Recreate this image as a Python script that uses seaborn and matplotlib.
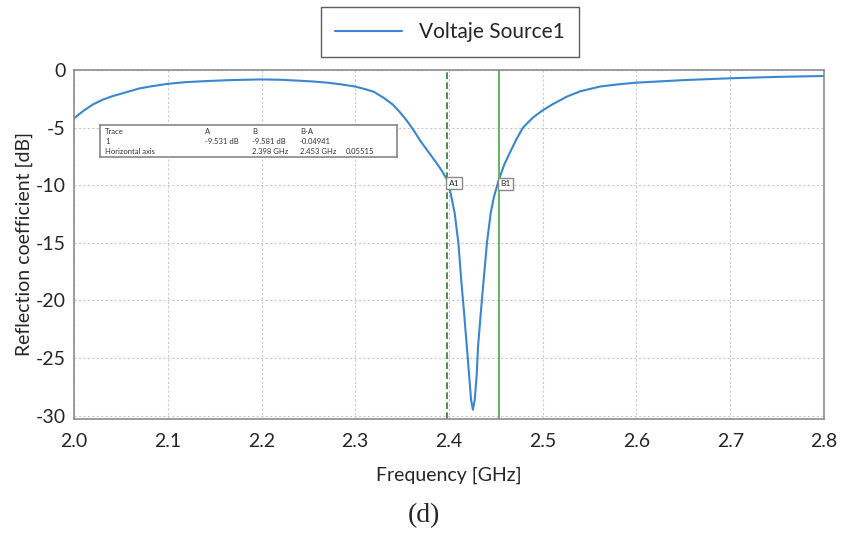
import numpy as np
import pandas as pd
import matplotlib.pyplot as plt
import seaborn as sns

# Reflection coefficient trace
freq_ghz = [2.000, 2.010, 2.020, 2.030, 2.040, 2.057, 2.070, 2.080, 2.100, 2.120,
            2.145, 2.170, 2.200, 2.220, 2.240, 2.255, 2.270, 2.285, 2.300, 2.310,
            2.320, 2.330, 2.340, 2.348, 2.355, 2.362, 2.369, 2.377, 2.386, 2.392,
            2.398, 2.402, 2.406, 2.410, 2.413, 2.416, 2.419, 2.4215, 2.4235, 2.4255,
            2.4275, 2.4295, 2.431, 2.434, 2.437, 2.4405, 2.4445, 2.448, 2.453, 2.459,
            2.466, 2.472, 2.479, 2.485, 2.490, 2.495, 2.500, 2.510, 2.526, 2.540,
            2.561, 2.580, 2.600, 2.650, 2.700, 2.750, 2.800]
refl_db = [-4.2, -3.55, -3.0, -2.6, -2.3, -1.9, -1.6, -1.45, -1.2, -1.05,
           -0.95, -0.87, -0.82, -0.85, -0.93, -1.0, -1.1, -1.25, -1.44, -1.65,
           -1.9, -2.4, -3.0, -3.7, -4.4, -5.2, -6.1, -7.0, -8.0, -8.7,
           -9.53, -10.8, -12.4, -15.0, -18.2, -21.0, -24.0, -26.5, -28.6, -29.5,
           -28.6, -26.5, -24.0, -21.0, -18.2, -15.0, -12.4, -11.0, -9.58, -8.2,
           -7.0, -6.0, -5.0, -4.5, -4.1, -3.8, -3.5, -3.0, -2.3, -1.85,
           -1.44, -1.25, -1.1, -0.88, -0.72, -0.6, -0.52]

marker_names = ["A1", "B1"]
marker_freq = [2.398, 2.453]
marker_db = [-9.531, -9.581]

x_ticks = [2.0, 2.1, 2.2, 2.3, 2.4, 2.5, 2.6, 2.7, 2.8]
y_ticks = [0, -5, -10, -15, -20, -25, -30]

table_rows = [
    ["Trace", "A", "B", "B-A", ""],
    ["1", "-9.531 dB", "-9.581 dB", "-0.04941", ""],
    ["Horizontal axis", "", "2.398 GHz", "2.453 GHz", "0.05515"],
]

df = pd.DataFrame({"Frequency": freq_ghz, "S11": refl_db})

sns.set_style("white")
plt.rcParams["font.family"] = ["Lato", "DejaVu Sans"]

fig = plt.figure(figsize=(8.42, 5.33), dpi=100)
ax = fig.add_axes([0.0879, 0.2139, 0.8907, 0.6548])

sns.lineplot(data=df, x="Frequency", y="S11", ax=ax, color="#3A86CF",
             linewidth=1.5, label="Voltaje Source1", legend=False)

# marker lines
ax.axvline(marker_freq[0], color="#2E7D32", linestyle=(0, (4, 2)), linewidth=1.2)
ax.axvline(marker_freq[1], color="#5CB85C", linestyle="-", linewidth=1.4)
for name, fx, fy in zip(marker_names, marker_freq, marker_db):
    ax.text(fx + 0.002, fy - 0.3, name, fontsize=6, va="center", ha="left",
            bbox=dict(boxstyle="square,pad=0.3", fc="white", ec="#888888", lw=1))

ax.set_xlim(2.0, 2.8)
ax.set_ylim(-30.3, 0)
ax.set_xticks(x_ticks)
ax.set_xticklabels([f"{t:.1f}" for t in x_ticks], fontsize=14)
ax.set_yticks(y_ticks)
ax.set_yticklabels([str(t) for t in y_ticks], fontsize=14)
ax.tick_params(axis="x", length=0, pad=10)
ax.tick_params(axis="y", length=0, pad=6)
ax.grid(True, color="#C8C8C8", linestyle=(0, (2, 2)), linewidth=0.8)
for s in ax.spines.values():
    s.set_color("#8C8C8C")
    s.set_linewidth(1.2)
ax.set_xlabel("Frequency [GHz]", fontsize=14, labelpad=12)
ax.set_ylabel("Reflection coefficient [dB]", fontsize=14, labelpad=2)

# marker table
tbl_ax = fig.add_axes([100 / 842, 1 - 157 / 533, 297 / 842, 32 / 533])
tbl_ax.set_xlim(0, 297)
tbl_ax.set_ylim(32, 0)
tbl_ax.set_xticks([])
tbl_ax.set_yticks([])
for s in tbl_ax.spines.values():
    s.set_color("#888888")
    s.set_linewidth(1.2)
col_x = [5, 105, 152, 200, 246]
row_y = [6, 16, 26]
for r, row in zip(row_y, table_rows):
    for cx, cell in zip(col_x, row):
        tbl_ax.text(cx, r, cell, fontsize=5.5, va="center", ha="left", color="#333333")

# legend box
handles, labels = ax.get_legend_handles_labels()
fig.legend(handles, labels, loc="center", bbox_to_anchor=(450 / 842, 1 - 32 / 533),
           fontsize=15, frameon=True, fancybox=False, edgecolor="#333333",
           handlelength=3.2, borderpad=0.7, borderaxespad=0)

# caption
fig.text(424 / 842, 1 - 516 / 533, "(d)", fontsize=20, ha="center", va="center",
         family="Liberation Serif")

fig.savefig("out.png", dpi=100)
